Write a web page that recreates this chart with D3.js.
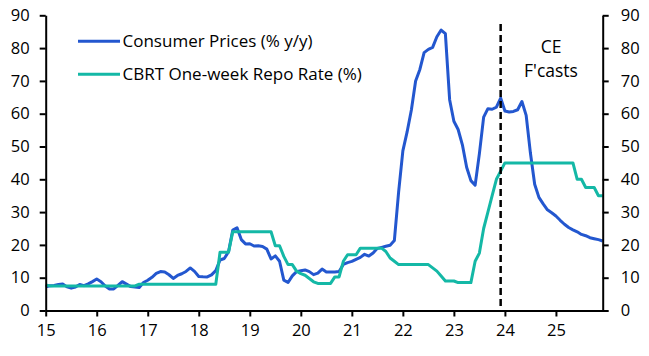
<!DOCTYPE html>
<html>
<head>
<meta charset="utf-8">
<script src="https://cdn.jsdelivr.net/npm/d3@7"></script>
<style>
  html, body { margin: 0; padding: 0; background: #fff; }
  svg { display: block; }
  text { font-family: "Open Sans", "Noto Sans", sans-serif; fill: #000; }
</style>
</head>
<body>
<svg id="chart" width="649" height="356"></svg>
<script>
// ---- data (monthly, Jan 2015 - Dec 2025) ----
const startYear = 2015;
const xTickLabels = ["15", "16", "17", "18", "19", "20", "21", "22", "23", "24", "25"];
const yTicks = [0, 10, 20, 30, 40, 50, 60, 70, 80, 90];
const seriesNames = ["Consumer Prices (% y/y)", "CBRT One-week Repo Rate (%)"];
const forecastStart = 2023 + 11 / 12; // Dec 2023
const forecastLabel = ["CE", "F'casts"];

const cpi = [
  // 2015
  7.24, 7.55, 7.61, 7.91, 8.09, 7.20, 6.81, 7.14, 7.95, 7.58, 8.10, 8.81,
  // 2016
  9.58, 8.78, 7.46, 6.57, 6.58, 7.64, 8.79, 8.05, 7.28, 7.16, 7.00, 8.53,
  // 2017
  9.22, 10.13, 11.29, 11.87, 11.72, 10.90, 9.79, 10.68, 11.20, 11.90, 12.98, 11.92,
  // 2018
  10.35, 10.26, 10.23, 10.85, 12.15, 15.39, 15.85, 17.90, 24.52, 25.24, 21.62, 20.30,
  // 2019
  20.35, 19.67, 19.71, 19.50, 18.71, 15.72, 16.65, 15.01, 9.26, 8.55, 10.56, 11.84,
  // 2020
  12.15, 12.37, 11.86, 10.94, 11.39, 12.62, 11.76, 11.77, 11.75, 11.89, 14.03, 14.60,
  // 2021
  14.97, 15.61, 16.19, 17.14, 16.59, 17.53, 18.95, 19.25, 19.58, 19.89, 21.31, 36.08,
  // 2022
  48.69, 54.44, 61.14, 69.97, 73.50, 78.62, 79.60, 80.21, 83.45, 85.51, 84.39, 64.27,
  // 2023
  57.68, 55.18, 50.51, 43.68, 39.59, 38.21, 47.83, 58.94, 61.53, 61.36, 61.98, 64.77,
  // 2024
  60.8, 60.5, 60.7, 61.2, 63.7, 59.5, 48.0, 38.5, 34.5, 32.5, 30.7, 29.8,
  // 2025
  28.8, 27.5, 26.3, 25.3, 24.6, 24.0, 23.2, 22.8, 22.2, 21.9, 21.6, 21.2
];

const repo = [
  // 2015
  7.75, 7.5, 7.5, 7.5, 7.5, 7.5, 7.5, 7.5, 7.5, 7.5, 7.5, 7.5,
  // 2016
  7.5, 7.5, 7.5, 7.5, 7.5, 7.5, 7.5, 7.5, 7.5, 7.5, 8, 8,
  // 2017
  8, 8, 8, 8, 8, 8, 8, 8, 8, 8, 8, 8,
  // 2018
  8, 8, 8, 8, 8, 17.75, 17.75, 17.75, 24, 24, 24, 24,
  // 2019
  24, 24, 24, 24, 24, 24, 19.75, 19.75, 16.5, 14, 14, 12,
  // 2020
  11.25, 10.75, 9.75, 8.75, 8.25, 8.25, 8.25, 8.25, 10.25, 10.25, 15, 17,
  // 2021
  17, 17, 19, 19, 19, 19, 19, 19, 18, 16, 15, 14,
  // 2022
  14, 14, 14, 14, 14, 14, 14, 13, 12, 10.5, 9, 9,
  // 2023
  9, 8.5, 8.5, 8.5, 8.5, 15, 17.5, 25, 30, 35, 40, 42.5,
  // 2024
  45, 45, 45, 45, 45, 45, 45, 45, 45, 45, 45, 45,
  // 2025
  45, 45, 45, 45, 45, 40, 40, 37.5, 37.5, 37.5, 35, 35
];

const colors = ["#2357cf", "#14b8a6"];

// ---- layout ----
const svg = d3.select("#chart");
const plotL = 45.7, plotR = 602.7, plotT = 15.3, plotB = 310.5;
const lastT = startYear + (cpi.length - 1) / 12;

const x = d3.scaleLinear().domain([startYear, lastT]).range([plotL, plotR]);
const y = d3.scaleLinear().domain([0, 90]).range([plotB, plotT]);

const toPts = arr => arr.map((v, i) => ({ t: startYear + i / 12, v }));

const line = d3.line().x(d => x(d.t)).y(d => y(d.v));

// series
[cpi, repo].forEach((arr, k) => {
  svg.append("path")
    .datum(toPts(arr))
    .attr("d", line)
    .attr("fill", "none")
    .attr("stroke", colors[k])
    .attr("stroke-width", 3)
    .attr("stroke-linejoin", "round")
    .attr("stroke-linecap", "butt");
});

// forecast divider
svg.append("line")
  .attr("x1", x(forecastStart)).attr("x2", x(forecastStart))
  .attr("y1", 24).attr("y2", plotB)
  .attr("stroke", "#000").attr("stroke-width", 2.5)
  .attr("stroke-dasharray", "7,4");

const fc = svg.append("text")
  .attr("x", 551).attr("y", 52.5)
  .attr("text-anchor", "middle")
  .style("font-size", "17.5px");
fc.selectAll("tspan").data(forecastLabel).join("tspan")
  .attr("x", 551)
  .attr("dy", (d, i) => i === 0 ? 0 : 24.5)
  .text(d => d);

// axes
const xTickVals = xTickLabels.map((d, i) => startYear + i);
const xAxis = d3.axisBottom(x).tickValues(xTickVals)
  .tickFormat((d, i) => xTickLabels[i]).tickSize(6).tickSizeOuter(0).tickPadding(8);
const yAxisL = d3.axisLeft(y).tickValues(yTicks).tickSize(6).tickSizeOuter(0).tickPadding(10);
const yAxisR = d3.axisRight(y).tickValues(yTicks).tickSize(6).tickSizeOuter(0).tickPadding(12);

function styleAxis(g) {
  g.select(".domain").attr("stroke", "#000").attr("stroke-width", 2);
  g.selectAll(".tick line").attr("stroke", "#000").attr("stroke-width", 2);
  g.selectAll(".tick text").style("font-size", "16.5px").attr("fill", "#000")
    .style("font-family", "'Open Sans', sans-serif");
}

svg.append("g").attr("transform", `translate(0,${plotB})`).call(xAxis).call(styleAxis);
svg.append("g").attr("transform", `translate(${plotL},0)`).call(yAxisL).call(styleAxis);
svg.append("g").attr("transform", `translate(${plotR},0)`).call(yAxisR).call(styleAxis);

// legend
const legend = svg.append("g");
seriesNames.forEach((name, k) => {
  const ly = 41.3 + k * 33;
  legend.append("line")
    .attr("x1", 78).attr("x2", 120).attr("y1", ly).attr("y2", ly)
    .attr("stroke", colors[k]).attr("stroke-width", 3);
  legend.append("text")
    .attr("x", 122.5).attr("y", ly + 6)
    .style("font-size", "17px")
    .text(name);
});
</script>
</body>
</html>
